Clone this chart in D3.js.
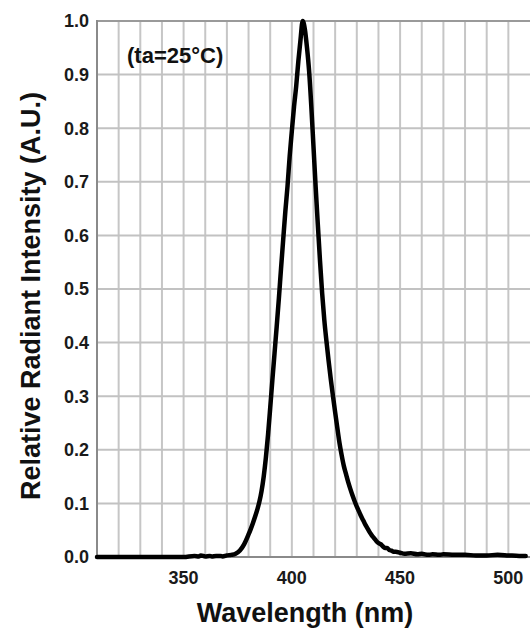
<!DOCTYPE html>
<html>
<head>
<meta charset="utf-8">
<script src="https://cdn.jsdelivr.net/npm/d3@7"></script>
<style>
body{margin:0;background:#fff;}
text{font-family:"Liberation Sans",Arial,sans-serif;font-weight:bold;}
</style>
</head>
<body>
<script>
var svg_width=530;
var svg_height=628;

// spectrum
var wavelength=[310,320,330,340,350,355,357,358,360,362,363,365,367,368,370,372,374,376,378,380,381,382,383,384,385,386,387,388,389,390,
    391,392,393,394,395,396,397,398,399,400,401,402,403,404,405,406,407,408,409,410,
    411,412,413,414,415,416,417,418,419,420,421,422,423,424,425,426,427,428,429,430,
    431,432,433,434,435,436,437,438,439,440,441,442,443,444,445,446,447,448,450,452,
    455,458,460,463,465,468,470,475,480,485,490,495,500,505,508];
var intensity=[0,0,0,0,0,0.002,0.001,0.003,0.001,0.002,0.001,0.002,0.002,0.001,0.003,0.004,0.006,0.012,0.024,0.042,0.052,0.063,0.075,0.088,0.103,0.123,0.15,0.185,0.228,0.278,
    0.33,0.38,0.43,0.482,0.538,0.592,0.645,0.692,0.748,0.795,0.84,0.878,0.925,0.965,1.0,0.985,0.95,0.905,0.84,0.765,
    0.69,0.62,0.553,0.492,0.442,0.402,0.365,0.331,0.3,0.27,0.241,0.213,0.19,0.17,0.155,0.14,0.127,0.115,0.104,0.094,
    0.085,0.076,0.068,0.06,0.053,0.046,0.04,0.035,0.03,0.026,0.024,0.02,0.017,0.017,0.013,0.012,0.01,0.01,0.008,0.006,
    0.007,0.005,0.006,0.004,0.005,0.004,0.005,0.004,0.004,0.003,0.003,0.004,0.003,0.002,0.002];

var x_ticks=[350,400,450,500];
var y_ticks=[0,0.1,0.2,0.3,0.4,0.5,0.6,0.7,0.8,0.9,1.0];
var x_grid=[320,330,340,350,360,370,380,390,400,410,420,430,440,450,460,470,480,490,500];

var svg=d3.select("body")
        .append("svg")
        .attr("width",svg_width)
        .attr("height",svg_height);

var x=d3.scaleLinear().domain([310,510]).range([97,530]);
var y=d3.scaleLinear().domain([0,1]).range([557,21]);

// grid
svg.selectAll(".vgrid")
    .data(x_grid)
    .enter()
    .append("line")
    .attr("x1",function (d) { return x(d); })
    .attr("x2",function (d) { return x(d); })
    .attr("y1",y(1))
    .attr("y2",y(0))
    .attr("stroke","#c6c6c6")
    .attr("stroke-width",2);

svg.selectAll(".hgrid")
    .data(y_ticks.slice(1))
    .enter()
    .append("line")
    .attr("x1",x(310))
    .attr("x2",svg_width)
    .attr("y1",function (d) { return y(d); })
    .attr("y2",function (d) { return y(d); })
    .attr("stroke",function (d) { return d==1 ? "#9a9a9a" : "#c2c2c2"; })
    .attr("stroke-width",2);

// axis lines
svg.append("line")
    .attr("x1",x(310)).attr("x2",x(310))
    .attr("y1",y(1)-1).attr("y2",y(0))
    .attr("stroke","#8a8a8a")
    .attr("stroke-width",2);
svg.append("line")
    .attr("x1",x(310)).attr("x2",svg_width)
    .attr("y1",y(0)).attr("y2",y(0))
    .attr("stroke","#8a8a8a")
    .attr("stroke-width",2);

// tick labels
svg.selectAll(".ylab")
    .data(y_ticks)
    .enter()
    .append("text")
    .text(function (d) { return d3.format(".1f")(d); })
    .attr("text-anchor","end")
    .attr("x",89)
    .attr("y",function (d) { return y(d); })
    .attr("dy","0.36em")
    .attr("font-size","18px")
    .attr("fill","#1a1a1a");

svg.selectAll(".xlab")
    .data(x_ticks)
    .enter()
    .append("text")
    .text(function (d) { return d; })
    .attr("text-anchor","middle")
    .attr("x",function (d) { return x(d); })
    .attr("y",584)
    .attr("font-size","18px")
    .attr("fill","#1a1a1a");

// curve
var line=d3.line()
    .x(function (d,i) { return x(wavelength[i]); })
    .y(function (d) { return y(d); })
    .curve(d3.curveMonotoneX);

svg.append("path")
    .datum(intensity)
    .attr("d",line)
    .attr("fill","none")
    .attr("stroke","#000")
    .attr("stroke-width",4.5)
    .attr("stroke-linejoin","round")
    .attr("stroke-linecap","round");

// titles
svg.append("text")
    .text("(ta=25°C)")
    .attr("x",127)
    .attr("y",63)
    .attr("font-size","22px")
    .attr("fill","#111");

svg.append("text")
    .text("Wavelength (nm)")
    .attr("text-anchor","middle")
    .attr("x",305)
    .attr("y",622)
    .attr("font-size","27px")
    .attr("fill","#111");

svg.append("text")
    .text("Relative Radiant Intensity (A.U.)")
    .attr("text-anchor","middle")
    .attr("transform","translate(40,296) rotate(-90)")
    .attr("font-size","27px")
    .attr("fill","#111");
</script>
</body>
</html>
